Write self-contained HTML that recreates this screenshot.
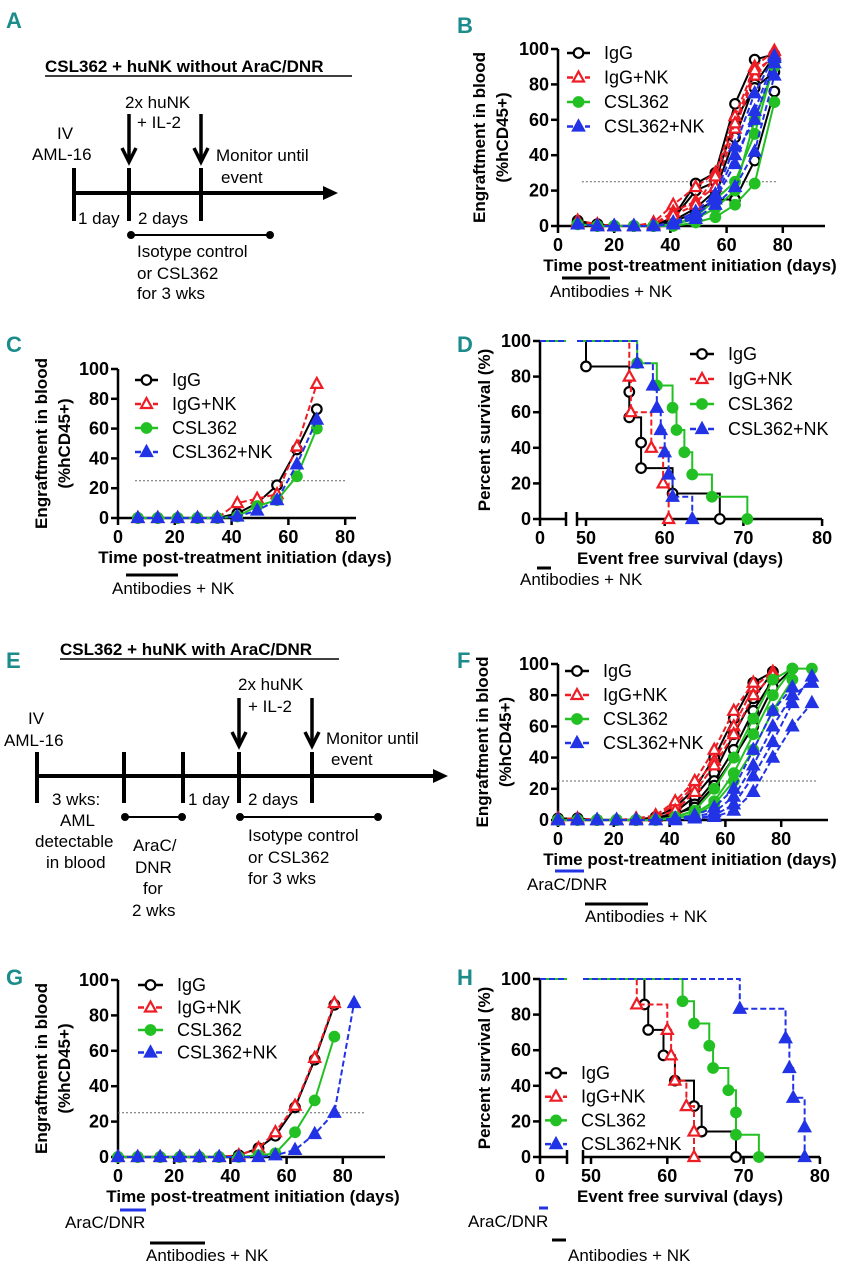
<!DOCTYPE html>
<html><head><meta charset="utf-8"><style>
body{margin:0;background:#fff}
svg{display:block;font-family:"Liberation Sans",Arial,sans-serif}
.pl{font-family:"Liberation Sans Narrow","Liberation Sans",sans-serif;font-weight:bold;fill:#1b8b8b;font-size:22px}
.d{font-size:17px;fill:#000}
.t{font-size:17px;font-weight:bold}
</style></head><body>
<svg id="fig" width="859" height="1280" viewBox="0 0 859 1280">
<g>
<text class="pl" x="6" y="28">A</text>
<text class="pl" x="457" y="33">B</text>
<text class="pl" x="6" y="352">C</text>
<text class="pl" x="457" y="352">D</text>
<text class="pl" x="6" y="668">E</text>
<text class="pl" x="457" y="668">F</text>
<text class="pl" x="6" y="985">G</text>
<text class="pl" x="457" y="985">H</text>
</g>
<g stroke="#000" fill="none">
<text class="d t" x="45" y="72" stroke="none" fill="#000">CSL362 + huNK without AraC/DNR</text>
<line x1="45" y1="76" x2="352" y2="76" stroke-width="1.5"/>
<line x1="74" y1="193" x2="325" y2="193" stroke-width="4"/>
<polygon points="323,186 338,193 323,200" fill="#000" stroke="none"/>
<line x1="74" y1="168" x2="74" y2="221" stroke-width="4"/>
<line x1="129" y1="168" x2="129" y2="221" stroke-width="4"/>
<line x1="201" y1="168" x2="201" y2="221" stroke-width="4"/>
<line x1="129" y1="114" x2="129" y2="158" stroke-width="3.5"/>
<polyline points="122,148 129,162 136,148" stroke-width="3.5"/>
<line x1="201" y1="114" x2="201" y2="158" stroke-width="3.5"/>
<polyline points="194,148 201,162 208,148" stroke-width="3.5"/>
<line x1="131" y1="235" x2="270" y2="235" stroke-width="2"/>
<circle cx="131" cy="235" r="3.5" fill="#000"/><circle cx="270" cy="235" r="3.5" fill="#000"/>
<g stroke="none" fill="#000">
<text class="d" x="57" y="139">IV</text>
<text class="d" x="32" y="160">AML-16</text>
<text class="d" x="125" y="108">2x huNK</text>
<text class="d" x="137" y="128">+ IL-2</text>
<text class="d" x="216" y="161">Monitor until</text>
<text class="d" x="221" y="183">event</text>
<text class="d" x="78" y="224">1 day</text>
<text class="d" x="138" y="224">2 days</text>
<text class="d" x="137" y="257">Isotype control</text>
<text class="d" x="137" y="279">or CSL362</text>
<text class="d" x="137" y="299">for 3 wks</text>
</g></g>
<g stroke="#000" fill="none">
<text class="d t" x="60" y="655" stroke="none" fill="#000">CSL362 + huNK with AraC/DNR</text>
<line x1="60" y1="659" x2="339" y2="659" stroke-width="1.5"/>
<line x1="37" y1="776" x2="435" y2="776" stroke-width="4"/>
<polygon points="433,769 448,776 433,783" fill="#000" stroke="none"/>
<line x1="37" y1="752" x2="37" y2="803" stroke-width="4"/>
<line x1="124" y1="752" x2="124" y2="803" stroke-width="4"/>
<line x1="183" y1="752" x2="183" y2="803" stroke-width="4"/>
<line x1="239" y1="752" x2="239" y2="803" stroke-width="4"/>
<line x1="312" y1="752" x2="312" y2="803" stroke-width="4"/>
<line x1="239" y1="698" x2="239" y2="742" stroke-width="3.5"/>
<polyline points="232,732 239,746 246,732" stroke-width="3.5"/>
<line x1="312" y1="698" x2="312" y2="742" stroke-width="3.5"/>
<polyline points="305,732 312,746 319,732" stroke-width="3.5"/>
<line x1="125" y1="817" x2="182" y2="817" stroke-width="2"/>
<circle cx="125" cy="817" r="3.5" fill="#000"/><circle cx="182" cy="817" r="3.5" fill="#000"/>
<line x1="240" y1="817" x2="378" y2="817" stroke-width="2"/>
<circle cx="240" cy="817" r="3.5" fill="#000"/><circle cx="378" cy="817" r="3.5" fill="#000"/>
<g stroke="none" fill="#000">
<text class="d" x="28" y="724">IV</text>
<text class="d" x="4" y="746">AML-16</text>
<text class="d" x="238" y="690">2x huNK</text>
<text class="d" x="248" y="712">+ IL-2</text>
<text class="d" x="326" y="744">Monitor until</text>
<text class="d" x="331" y="765">event</text>
<text class="d" x="52" y="805">3 wks:</text>
<text class="d" x="60" y="826">AML</text>
<text class="d" x="35" y="847">detectable</text>
<text class="d" x="46" y="868">in blood</text>
<text class="d" x="188" y="805">1 day</text>
<text class="d" x="248" y="805">2 days</text>
<text class="d" x="133" y="851">AraC/</text>
<text class="d" x="135" y="873">DNR</text>
<text class="d" x="143" y="894">for</text>
<text class="d" x="132" y="916">2 wks</text>
<text class="d" x="248" y="841">Isotype control</text>
<text class="d" x="248" y="863">or CSL362</text>
<text class="d" x="248" y="884">for 3 wks</text>
</g></g>
</svg>
<script>
// ---------- data ----------
const yTicks=[0,20,40,60,80,100];
const xTicksE=[0,20,40,60,80];
const xTicksS=[0,50,60,70,80];
const legendLabels=['IgG','IgG+NK','CSL362','CSL362+NK'];
const threshold=25;
// B
const timesB=[7,14,20,27,34,41,49,56,63,70,77];
const bIgG=[[3,1,0,0,0,5,24,30,69,94,97],[2,1,0,0,0,3,10,20,50,80,96],[1,0,0,0,0,2,8,15,15,37,76],[2,1,0,0,0,4,20,25,60,78,87]];
const bIgGNK=[[3,1,0,0,2,12,22,30,62,90,99],[2,0,0,0,1,8,14,22,55,85,97],[1,0,0,0,1,6,12,28,58,88,95]];
const bCSL=[[1,0,0,0,0,0,2,5,12,24,70],[1,0,0,0,0,1,5,15,25,52,92],[1,0,0,0,0,1,4,10,20,60,90]];
const bCSLNK=[[1,0,0,0,0,1,6,15,35,65,95],[1,0,0,0,0,2,8,18,45,75,96],[1,0,0,0,0,1,4,12,22,42,85],[1,0,0,0,0,2,6,16,40,60,92]];
// C
const timesC=[7,14,21,28,35,42,49,56,63,70];
const cIgG=[0,0,0,0,0,3,10,22,46,73];
const cIgGNK=[0,0,0,0,0,10,13,16,48,90];
const cCSL=[0,0,0,0,0,1,8,12,28,60];
const cCSLNK=[0,0,0,0,0,1,5,12,36,66];
// D
const dIgGT=[50,55.5,55.5,57,57,61,67], dIgGV=[85.7,71.4,57.1,42.9,28.6,14.3,0];
const dIgGNKT=[55.5,55.7,58.3,59.8,60.5], dIgGNKV=[80,60,40,20,0];
const dCSLT=[56.5,59,61,61.5,62.5,63.5,66,70.5], dCSLV=[87.5,75,62.5,50,37.5,25,12.5,0];
const dCSLNKT=[56.5,58.5,59,59.5,60,60.5,61,63.5], dCSLNKV=[87.5,75,62.5,50,37.5,25,12.5,0];
// F
const timesF=[0,7,14,21,28,35,42,49,56,63,70,77,84,91];
const fIgG=[[1,1,0,0,0,1,5,15,30,55,78,95],[0,1,0,0,0,2,8,20,40,65,88,95],[0,0,0,0,0,1,3,10,25,45,70,90],[0,0,0,0,0,1,4,8,22,40,60,85,97]];
const fIgGNK=[[1,1,0,0,0,2,10,22,38,60,85,95],[0,0,0,0,1,3,12,25,45,70,88],[0,0,0,0,0,2,6,18,35,55,80,93]];
const fCSL=[[0,0,0,0,0,0,1,4,12,30,55,80,97],[0,0,0,0,0,0,2,6,20,40,65,90,97,97],[0,0,0,0,0,0,1,3,10,25,45,70,90]];
const fCSLNK=[[0,0,0,0,0,0,0,1,3,10,28,50,75,92],[0,0,0,0,0,0,0,2,5,15,35,60,80,88],[0,0,0,0,0,0,0,1,2,6,18,40,60,75],[0,0,0,0,0,0,1,3,8,20,45,70,85]];
// G
const timesG=[0,7,15,22,29,36,43,50,56,63,70,77,84];
const gIgG=[0,0,0,0,0,0,1,5,12,28,55,86];
const gIgGNK=[0,0,0,0,0,0,1,5,14,29,56,87];
const gCSL=[0,0,0,0,0,0,0,1,2,14,32,68];
const gCSLNK=[0,0,0,0,0,0,0,0,1,4,13,25,87];
// H
const hIgGT=[57,57.5,59.5,61,63.5,64.5,69], hIgGV=[85.7,71.4,57.1,42.9,28.6,14.3,0];
const hIgGNKT=[56,60,60.5,61,62.5,63.5,63.5], hIgGNKV=[85.7,71.4,57.1,42.9,28.6,14.3,0];
const hCSLT=[62,63.5,65.5,66,68,69,69,72], hCSLV=[87.5,75,62.5,50,37.5,25,12.5,0];
const hCSLNKT=[69.5,75.5,76,76.5,78,78], hCSLNKV=[83.3,66.7,50,33.3,16.7,0];

// ---------- drawing ----------
const NS='http://www.w3.org/2000/svg';
const svg=document.getElementById('fig');
const STY=[{c:'#000',dash:null,m:'circle',fill:false},{c:'#ee1c24',dash:'6,3',m:'tri',fill:false},{c:'#22c023',dash:null,m:'circle',fill:true},{c:'#2233e6',dash:'6,3',m:'tri',fill:true}];
function mk(tag,attrs,parent){const e=document.createElementNS(NS,tag);for(const k in attrs)e.setAttribute(k,attrs[k]);(parent||svg).appendChild(e);return e;}
function marker(g,x,y,s,name){let e;
 if(s.m==='circle'){e=mk('circle',{cx:x,cy:y,r:4.8,fill:s.fill?s.c:'#fff',stroke:s.c,'stroke-width':2.2},g);}
 else{e=mk('polygon',{points:`${x},${y-6} ${x-5.5},${y+4} ${x+5.5},${y+4}`,fill:s.fill?s.c:'#fff',stroke:s.c,'stroke-width':2.2},g);}
 
 }
function txt(g,x,y,s,o){const e=mk('text',Object.assign({x:x,y:y},o||{}),g);e.textContent=s;return e;}
function axes(P,xt,xpos,ttl,name){
 const g=mk('g',{},svg);
 
 
 mk('line',{x1:P.x0,y1:P.y0+1,x2:P.x0,y2:P.y100,stroke:'#000','stroke-width':2.5},g);
 yTicks.forEach(v=>{const y=P.y(v);mk('line',{x1:P.x0-7,y1:y,x2:P.x0,y2:y,stroke:'#000','stroke-width':2.5},g);
  const t=txt(g,P.x0-9,y+6,String(v),{'text-anchor':'end','font-size':18,'font-weight':'bold'});
  
  });
 xt.forEach((v,i)=>{const x=xpos(v,i);mk('line',{x1:x,y1:P.y0,x2:x,y2:P.y0+7,stroke:'#000','stroke-width':2.5},g);
  const t=txt(g,x,P.y0+25,String(v),{'text-anchor':'middle','font-size':18,'font-weight':'bold'});
  
  });
 const xt2=txt(g,P.xt,P.y0+45,ttl,{'text-anchor':'middle','font-size':17,'font-weight':'bold'});
 
 
 return g;}
function ytitle(g,P,lines){lines.forEach((l,i)=>{const x=P.yl+i*23,y=(P.y0+P.y100)/2;
 const t=txt(g,x,y,l,{'text-anchor':'middle','font-size':17,'font-weight':'bold',transform:`rotate(-90 ${x} ${y})`});
 
 });}
function legend(P,name){const g=mk('g',{},svg);
 
 
 legendLabels.forEach((l,i)=>{const s=STY[i],y=P.ly+i*P.lgap;
  const e=mk('g',{},g);
  
  
  mk('line',Object.assign({x1:P.lx,y1:y,x2:P.lx+P.lw,y2:y,stroke:s.c,'stroke-width':2.5},s.dash?{'stroke-dasharray':s.dash}:{}),e);
  marker(e,P.lx+P.lw/2,y,s,'legend-marker');
  txt(e,P.lx+P.lw+14,y+6,l,{'font-size':18});});}
function bar(x1,x2,y,c,label,lx,ly,name){const g=mk('g',{},svg);
 
 
 mk('line',{x1:x1,y1:y,x2:x2,y2:y,stroke:c,'stroke-width':3},g);
 txt(g,lx,ly,label,{'font-size':17});}
function engraft(P,times,groups,name,ytl){
 P.x=t=>P.x0+t*P.kx; P.y=v=>P.y0-(P.y0-P.y100)*v/100;
 const g=axes(P,xTicksE,v=>P.x(v),'Time post-treatment initiation (days)',name);
 mk('line',{x1:P.x0,y1:P.y0,x2:P.xe,y2:P.y0,stroke:'#000','stroke-width':2.5},g);
 ytitle(g,P,ytl);
 const th=mk('line',{x1:P.x(P.th0),y1:P.y(threshold),x2:P.x(P.th1),y2:P.y(threshold),stroke:'#666','stroke-width':1,'stroke-dasharray':'2,2'},svg);
 
 
 groups.forEach((mice,gi)=>{const s=STY[gi];mice.forEach(vals=>{
  const sg=mk('g',{},svg);
  
  
  const pts=vals.map((v,i)=>P.x(times[i])+','+P.y(v)).join(' ');
  mk('polyline',Object.assign({points:pts,fill:'none',stroke:s.c,'stroke-width':2},s.dash?{'stroke-dasharray':s.dash}:{}),sg);
  vals.forEach((v,i)=>marker(sg,P.x(times[i]),P.y(v),s,'data-point'));});});
 legend(P,name);}
function survival(P,series,name){
 P.y=v=>P.y0-(P.y0-P.y100)*v/100;
 P.x=t=>P.x50+(t-50)*P.kx;
 const g=axes(P,xTicksS,(v,i)=>i===0?P.x0:P.x(v),'Event free survival (days)',name);
 mk('line',{x1:P.x0,y1:P.y0,x2:P.b1,y2:P.y0,stroke:'#000','stroke-width':2.5},g);
 mk('line',{x1:P.b2,y1:P.y0,x2:P.xe,y2:P.y0,stroke:'#000','stroke-width':2.5},g);
 [P.b1,P.b2].forEach(b=>mk('line',{x1:b,y1:P.y0-7,x2:b,y2:P.y0+7,stroke:'#000','stroke-width':2.5},g));
 ytitle(g,P,['Percent survival (%)']);
 series.forEach((sr,gi)=>{const s=STY[gi],T=sr[0],V=sr[1];
  const sg=mk('g',{},svg);
  
  
  const da=s.dash?{'stroke-dasharray':s.dash}:{};
  mk('line',Object.assign({x1:P.x0,y1:P.y(100),x2:P.b1,y2:P.y(100),stroke:s.c,'stroke-width':2},da),sg);
  let pts=[[P.b2,P.y(100)]],cur=100;
  T.forEach((t,i)=>{pts.push([P.x(t),P.y(cur)]);cur=V[i];pts.push([P.x(t),P.y(cur)]);});
  mk('polyline',Object.assign({points:pts.map(p=>p.join(',')).join(' '),fill:'none',stroke:s.c,'stroke-width':2},da),sg);
  T.forEach((t,i)=>marker(sg,P.x(t),P.y(V[i]),s,'data-point'));});
 legend(P,name);}

engraft({x0:558,kx:2.81,xe:825,y0:226,y100:49,xt:690,yl:485,th0:8.5,th1:78,lx:567,lw:23,ly:53,lgap:24.5},timesB,[bIgG,bIgGNK,bCSL,bCSLNK],'panel-b',['Engraftment in blood','(%hCD45+)']);
bar(562,610,278,'#000','Antibodies + NK',550,297,'antibodies-bar-b');
engraft({x0:118,kx:2.84,xe:356,y0:518,y100:369,xt:245,yl:47,th0:6,th1:80,lx:135,lw:23,ly:380,lgap:24},timesC,[[cIgG],[cIgGNK],[cCSL],[cCSLNK]],'panel-c',['Engraftment in blood','(%hCD45+)']);
bar(126,178,575,'#000','Antibodies + NK',112,594,'antibodies-bar-c');
survival({x0:540,x50:586,kx:7.87,b1:566,b2:577,xe:822,y0:519,y100:341,xt:680,yl:490,lx:690,lw:24,ly:354,lgap:25},[[dIgGT,dIgGV],[dIgGNKT,dIgGNKV],[dCSLT,dCSLV],[dCSLNKT,dCSLNKV]],'panel-d');
bar(537,551,568,'#000','Antibodies + NK',520,585,'antibodies-bar-d');
engraft({x0:558,kx:2.79,xe:828,y0:820,y100:664,xt:690,yl:488,th0:0,th1:93,lx:565,lw:24,ly:671,lgap:24},timesF,[fIgG,fIgGNK,fCSL,fCSLNK],'panel-f',['Engraftment in blood','(%hCD45+)']);
bar(555,584,871,'#2233e6','AraC/DNR',527,890,'aracdnr-bar-f');
bar(585,648,904,'#000','Antibodies + NK',585,922,'antibodies-bar-f');
engraft({x0:118,kx:2.81,xe:385,y0:1157,y100:980,xt:253,yl:47,th0:0,th1:88,lx:138,lw:25,ly:985,lgap:22.5},timesG,[[gIgG],[gIgGNK],[gCSL],[gCSLNK]],'panel-g',['Engraftment in blood','(%hCD45+)']);
bar(120,146,1210,'#2233e6','AraC/DNR',65,1228,'aracdnr-bar-g');
bar(150,205,1243,'#000','Antibodies + NK',146,1261,'antibodies-bar-g');
survival({x0:540,x50:591,kx:7.63,b1:567,b2:583,xe:820,y0:1157,y100:979,xt:680,yl:490,lx:545,lw:22,ly:1073,lgap:23.7},[[hIgGT,hIgGV],[hIgGNKT,hIgGNKV],[hCSLT,hCSLV],[hCSLNKT,hCSLNKV]],'panel-h');
bar(539,548,1208,'#2233e6','AraC/DNR',468,1227,'aracdnr-bar-h');
bar(552,566,1240,'#000','Antibodies + NK',568,1261,'antibodies-bar-h');
</script>
</body></html>
